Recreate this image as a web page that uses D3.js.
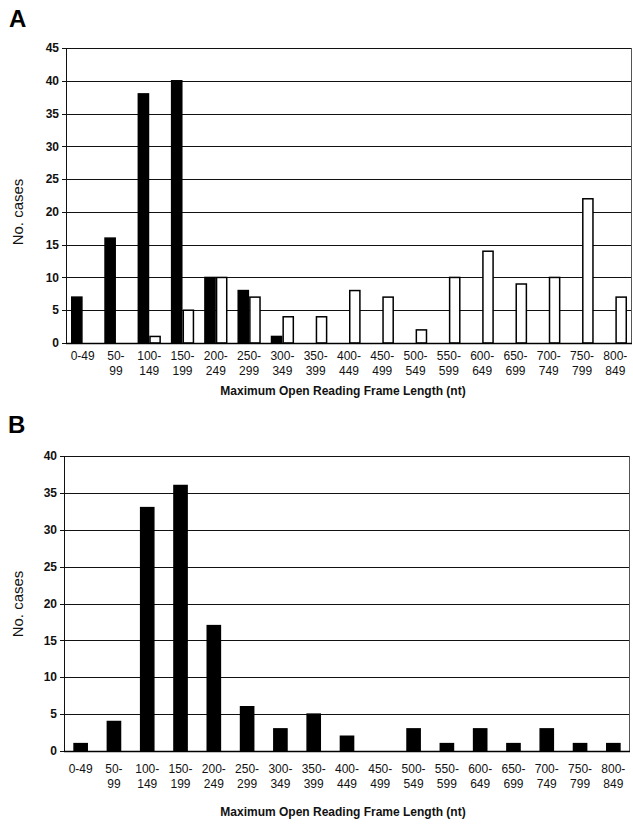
<!DOCTYPE html>
<html>
<head>
<meta charset="utf-8">
<script src="https://cdn.jsdelivr.net/npm/d3@7"></script>
<style>
  body { margin: 0; background: #fff; }
  svg { display: block; font-family: "Liberation Sans", Arial, sans-serif; }
  .grid line { stroke: #111; stroke-width: 1; }
  .ytick { font-size: 12px; font-weight: bold; fill: #111; }
  .xtick { font-size: 12px; fill: #111; }
  .axis-title { font-size: 12px; font-weight: bold; fill: #111; }
  .y-title { font-size: 15px; fill: #111; }
  .panel-label { font-size: 24px; font-weight: bold; fill: #000; }
</style>
</head>
<body>
<div id="chart"></div>
<script>
// Data ///////////////////////////////////////////////////////////////////
//////////////////////////////////////////////////////////////////////////
// ORF length bins (nt), label split over two lines
const binLabels = [
  ['0-49', ''], ['50-', '99'], ['100-', '149'], ['150-', '199'],
  ['200-', '249'], ['250-', '299'], ['300-', '349'], ['350-', '399'],
  ['400-', '449'], ['450-', '499'], ['500-', '549'], ['550-', '599'],
  ['600-', '649'], ['650-', '699'], ['700-', '749'], ['750-', '799'],
  ['800-', '849']
];
const bins = binLabels.map(d => d.join(' '));

// Panel A: two series (black and white bars)
const panelABlack = [7, 16, 38, 40, 10, 8, 1, 0, 0, 0, 0, 0, 0, 0, 0, 0, 0];
const panelAWhite = [0, 0, 1, 5, 10, 7, 4, 4, 8, 7, 2, 10, 14, 9, 10, 22, 7];
const panelATicks = [0, 5, 10, 15, 20, 25, 30, 35, 40, 45];

// Panel B: one series
const panelBBlack = [1, 4, 33, 36, 17, 6, 3, 5, 2, 0, 3, 1, 3, 1, 3, 1, 1];
const panelBTicks = [0, 5, 10, 15, 20, 25, 30, 35, 40];

const xTitle = 'Maximum Open Reading Frame Length (nt)';
const yTitle = 'No. cases';

// Chart //////////////////////////////////////////////////////////////////
//////////////////////////////////////////////////////////////////////////
const svg = d3.select('#chart').append('svg')
  .attr('width', 633)
  .attr('height', 828);

// Draws one histogram panel. box gives the plot area in page pixels.
function drawPanel(opts) {
  const box = opts.box;
  const g = svg.append('g');

  const y = d3.scaleLinear()
    .domain([0, d3.max(opts.ticks)])
    .range([box.bottom, box.top]);

  const x = d3.scaleBand()
    .domain(bins)
    .range([box.left, box.right])
    .paddingInner(opts.padInner)
    .paddingOuter(opts.padOuter);

  // horizontal grid lines, one per tick, with short tick marks on the left
  g.append('g').attr('class', 'grid')
    .selectAll('line')
    .data(opts.ticks)
    .enter().append('line')
    .attr('x1', box.left - 4)
    .attr('x2', box.right)
    .attr('y1', d => Math.round(y(d)) + 0.5)
    .attr('y2', d => Math.round(y(d)) + 0.5);

  // y tick labels
  g.selectAll('.ytick')
    .data(opts.ticks)
    .enter().append('text')
    .attr('class', 'ytick')
    .attr('x', box.left - 7)
    .attr('y', d => y(d))
    .attr('dy', '0.35em')
    .attr('text-anchor', 'end')
    .text(d => d);

  // left axis and right frame
  g.append('line')
    .attr('x1', box.left + 0.5).attr('x2', box.left + 0.5)
    .attr('y1', box.top).attr('y2', box.bottom + 1)
    .attr('stroke', '#111');
  g.append('line')
    .attr('x1', box.right - 0.5).attr('x2', box.right - 0.5)
    .attr('y1', box.top).attr('y2', box.bottom + 1)
    .attr('stroke', '#555');

  // bars
  const x1 = d3.scaleBand()
    .domain(d3.range(opts.series.length))
    .range([0, x.bandwidth()]);

  opts.series.forEach((s, si) => {
    g.selectAll('.bar-' + si)
      .data(s.values.map((v, i) => ({ bin: bins[i], value: v })).filter(d => d.value > 0))
      .enter().append('rect')
      .attr('class', 'bar-' + si)
      .attr('x', d => x(d.bin) + x1(si) + 0.75)
      .attr('width', x1.bandwidth() - 1.5)
      .attr('y', d => y(d.value))
      .attr('height', d => y(0) - y(d.value))
      .attr('fill', s.fill)
      .attr('stroke', '#000')
      .attr('stroke-width', 1.5);
  });

  // bottom axis line drawn over bars
  g.append('line')
    .attr('x1', box.left).attr('x2', box.right)
    .attr('y1', box.bottom + 0.5).attr('y2', box.bottom + 0.5)
    .attr('stroke', '#000')
    .attr('stroke-width', 1.5);

  // x tick labels, two lines each
  const xLabels = g.selectAll('.xtick')
    .data(binLabels)
    .enter().append('text')
    .attr('class', 'xtick')
    .attr('text-anchor', 'middle')
    .attr('y', box.bottom + opts.labelGap);
  xLabels.append('tspan')
    .attr('x', (d, i) => x(bins[i]) + x.bandwidth() / 2)
    .text(d => d[0]);
  xLabels.append('tspan')
    .attr('x', (d, i) => x(bins[i]) + x.bandwidth() / 2)
    .attr('dy', 15)
    .text(d => d[1]);

  // axis titles
  g.append('text')
    .attr('class', 'axis-title')
    .attr('x', 343)
    .attr('y', opts.xTitleY)
    .attr('text-anchor', 'middle')
    .text(xTitle);

  g.append('text')
    .attr('class', 'y-title')
    .attr('transform', `translate(23,${opts.yTitleY}) rotate(-90)`)
    .attr('text-anchor', 'middle')
    .text(yTitle);

  // panel letter
  g.append('text')
    .attr('class', 'panel-label')
    .attr('x', opts.letterX)
    .attr('y', opts.letterY)
    .text(opts.letter);
}

drawPanel({
  letter: 'A', letterX: 9, letterY: 27,
  box: { left: 66, right: 632, top: 48, bottom: 343 },
  ticks: panelATicks,
  padInner: 0.3, padOuter: 0.15,
  series: [
    { values: panelABlack, fill: '#000' },
    { values: panelAWhite, fill: '#fff' }
  ],
  labelGap: 17, xTitleY: 395, yTitleY: 212
});

drawPanel({
  letter: 'B', letterX: 8, letterY: 433,
  box: { left: 64, right: 630, top: 456, bottom: 751 },
  ticks: panelBTicks,
  padInner: 0.56, padOuter: 0.28,
  series: [
    { values: panelBBlack, fill: '#000' }
  ],
  labelGap: 22, xTitleY: 816, yTitleY: 604
});
</script>
</body>
</html>
